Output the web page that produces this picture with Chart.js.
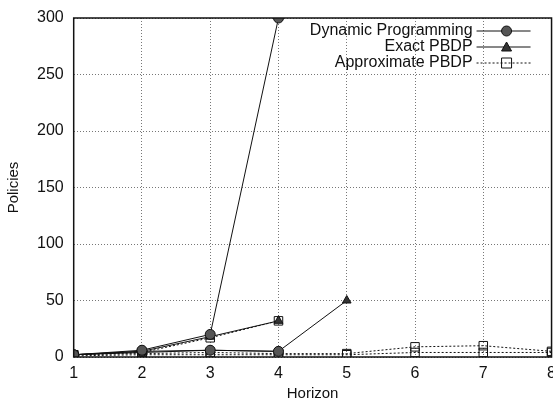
<!DOCTYPE html>
<html>
<head>
<meta charset="utf-8">
<script src="https://cdn.jsdelivr.net/npm/chart.js@4/dist/chart.umd.min.js"></script>
<style>
  html, body { margin: 0; padding: 0; background: #fff; overflow: hidden; }
  #wrap { width: 565px; height: 405px; }
</style>
</head>
<body>
<div id="wrap"><canvas id="chart"></canvas></div>
<script>
/**
 * Data
 */
const horizon = [1, 2, 3, 4, 5, 6, 7, 8];
const xTicks = [1, 2, 3, 4, 5, 6, 7, 8];
const yTicks = [0, 50, 100, 150, 200, 250, 300];

// Two problem runs per method, only the first of each goes in the legend
const dynamicA = [2, 6, 20, 300];
const dynamicB = [2, 5, 6, 5];
const exactA = [2, 5, 18, 32];
const exactB = [2, 4, 6, 5, 50];
const approxA = [2, 4, 17, 32];
const approxB = [2, 3, 4, 3, 3, 9, 10, 5];
const approxC = [1, 2, 2, 2, 2, 4, 4, 4];

const legendNames = ['Dynamic Programming', 'Exact PBDP', 'Approximate PBDP'];

/**
 * Helpers
 */
function points(values) {
  return values.map((v, i) => ({ x: horizon[i], y: v }));
}

function series(label, values, kind, inLegend) {
  const styles = {
    dp: { pointStyle: 'circle', pointRadius: 5, pointBackgroundColor: '#555', borderDash: [] },
    exact: { pointStyle: 'triangle', pointRadius: 5, pointBackgroundColor: '#333', borderDash: [] },
    approx: { pointStyle: 'rect', pointRadius: 6, pointBackgroundColor: 'rgba(255,255,255,0)', borderDash: [2, 2] },
  };
  return {
    label: label,
    data: points(values),
    kind: kind,
    inLegend: inLegend,
    borderColor: '#111',
    borderWidth: 1,
    pointBorderColor: '#111',
    pointBorderWidth: 1,
    tension: 0,
    ...styles[kind],
  };
}

function drawMarker(ctx, kind, x, y) {
  ctx.save();
  ctx.setLineDash([]);
  ctx.strokeStyle = '#111';
  ctx.lineWidth = 1;
  ctx.beginPath();
  if (kind === 'dp') {
    ctx.fillStyle = '#555';
    ctx.arc(x, y, 5, 0, Math.PI * 2);
    ctx.fill();
  } else if (kind === 'exact') {
    ctx.fillStyle = '#333';
    ctx.moveTo(x, y - 5);
    ctx.lineTo(x + 5, y + 4);
    ctx.lineTo(x - 5, y + 4);
    ctx.closePath();
    ctx.fill();
  } else {
    ctx.rect(x - 5, y - 5, 10, 10);
  }
  ctx.stroke();
  ctx.restore();
}

/**
 * Plugins
 */
const framePlugin = {
  id: 'frame',
  afterDraw(chart) {
    const { ctx, chartArea: a } = chart;
    ctx.save();
    ctx.strokeStyle = '#111';
    ctx.lineWidth = 1.5;
    ctx.strokeRect(a.left, a.top, a.right - a.left, a.bottom - a.top);
    ctx.restore();
  },
};

const insideLegend = {
  id: 'insideLegend',
  afterDraw(chart) {
    const { ctx, chartArea: a } = chart;
    const items = chart.data.datasets.filter((d) => d.inLegend);
    const textRight = a.right - 79;
    ctx.save();
    ctx.font = '16px "Liberation Sans", Arial, sans-serif';
    ctx.textAlign = 'right';
    ctx.textBaseline = 'middle';
    items.forEach((d, i) => {
      const y = a.top + 13 + i * 16;
      ctx.fillStyle = '#111';
      ctx.fillText(d.label, textRight, y);
      ctx.strokeStyle = '#111';
      ctx.lineWidth = 1;
      ctx.setLineDash(d.borderDash);
      ctx.beginPath();
      ctx.moveTo(textRight + 4, y);
      ctx.lineTo(textRight + 58, y);
      ctx.stroke();
      drawMarker(ctx, d.kind, textRight + 34, y);
    });
    ctx.restore();
  },
};

/**
 * Chart
 */
const tickFont = { family: '"Liberation Sans", Arial, sans-serif', size: 16, lineHeight: 1 };
const titleFont = { family: '"Liberation Sans", Arial, sans-serif', size: 15, lineHeight: 1 };
const gridStyle = {
  color: '#777',
  lineWidth: 1,
  drawTicks: false,
};

new Chart(document.getElementById('chart').getContext('2d'), {
  type: 'line',
  data: {
    datasets: [
      series(legendNames[0], dynamicA, 'dp', true),
      series(legendNames[1], exactA, 'exact', true),
      series(legendNames[2], approxA, 'approx', true),
      series(legendNames[0], dynamicB, 'dp', false),
      series(legendNames[1], exactB, 'exact', false),
      series(legendNames[2], approxB, 'approx', false),
      series(legendNames[2], approxC, 'approx', false),
    ],
  },
  options: {
    responsive: true,
    maintainAspectRatio: false,
    animation: false,
    layout: { padding: { top: 1, left: 2, right: 0, bottom: 0 } },
    plugins: {
      legend: { display: false },
      tooltip: { enabled: false },
    },
    scales: {
      x: {
        type: 'linear',
        min: 1,
        max: 8,
        afterBuildTicks: (scale) => { scale.ticks = xTicks.map((v) => ({ value: v })); },
        ticks: { color: '#111', font: tickFont, padding: 9, maxRotation: 0 },
        grid: { ...gridStyle },
        border: { display: false, dash: [1, 2] },
        title: { display: true, text: 'Horizon', color: '#111', font: titleFont, padding: { top: -5, bottom: 4 } },
      },
      y: {
        min: 0,
        max: 300,
        afterBuildTicks: (scale) => { scale.ticks = yTicks.map((v) => ({ value: v })); },
        ticks: { color: '#111', font: tickFont, padding: 10 },
        grid: { ...gridStyle },
        border: { display: false, dash: [1, 2] },
        title: { display: true, text: 'Policies', color: '#111', font: titleFont, padding: { top: 4, bottom: 6 } },
      },
    },
  },
  plugins: [framePlugin, insideLegend],
});
</script>
</body>
</html>
